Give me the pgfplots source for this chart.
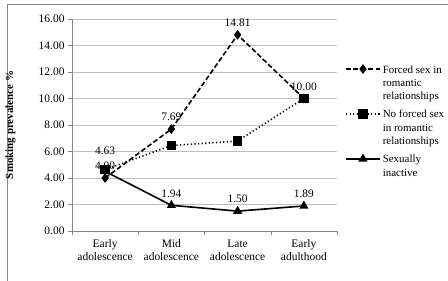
\documentclass[border=0pt]{standalone}
\usepackage{pgfplots}
\pgfplotsset{compat=1.18}
\usepackage{fontspec}
\setmainfont{Liberation Serif}
\definecolor{gridc}{HTML}{BFBFBF}
\definecolor{axc}{HTML}{868686}
\begin{document}
\begin{tikzpicture}
\useasboundingbox (0,0) rectangle (448bp,281bp);
\draw[axc, line width=0.8bp] (7bp,0) -- (7bp,276.5bp) -- (448bp,276.5bp);
\begin{axis}[
  at={(72bp,50bp)}, anchor=south west,
  scale only axis, width=265bp, height=212bp,
  xmin=-0.5, xmax=3.5, ymin=0, ymax=16,
  axis lines=left, axis line style={axc, -},
  xtick={0,1,2,3},
  xticklabels={Early\\adolescence, Mid\\adolescence, Late\\adolescence, Early\\adulthood},
  xticklabel style={align=center, font=\fontsize{11.5}{13.5}\selectfont, yshift=-1bp},
  major x tick style={draw=none},
  minor xtick={-0.5,0.5,1.5,2.5,3.5},
  minor x tick style={axc},
  minor tick length=4bp,
  tick align=outside,
  ytick={0,2,...,16},
  major y tick style={axc},
  major tick length=4bp,
  yticklabel style={font=\fontsize{11.5}{13}\selectfont, /pgf/number format/.cd, fixed, fixed zerofill, precision=2},
  /pgf/number format/assume math mode=true,
  ymajorgrids, grid style={gridc, line width=0.8bp},
  ylabel={\textbf{Smoking prevalence \%}},
  ylabel style={font=\fontsize{11}{12}\selectfont, at={(axis description cs:-0.2,0.5)}},
  clip=false,
  legend style={at={(axis description cs:1.03,0.80)}, anchor=north west, draw=none, fill=none,
    font=\fontsize{11}{13.5}\selectfont, row sep=30bp, inner sep=0pt},
  legend cell align=left,
  legend image code/.code={\draw[mark repeat=2, mark phase=2] plot coordinates {(0cm,0cm) (0.6cm,0cm) (1.2cm,0cm)};},
  nodes near coords style={font=\fontsize{11.5}{13}\selectfont, anchor=south, yshift=4bp, text=black},
]
\addplot[black, line width=1.6bp, dash pattern=on 5bp off 2.5bp, mark=diamond*, mark size=3.6bp, mark options={solid},
  nodes near coords, point meta=explicit symbolic]
  coordinates {(0,4.00) [4.00] (1,7.69) [7.69] (2,14.81) [14.81] (3,10.00) [10.00]};
\addlegendentry{\begin{tabular}[t]{@{}l@{}}Forced sex in\\romantic\\relationships\end{tabular}}
\addplot[black, line width=1.6bp, dash pattern=on 1.2bp off 2.4bp, mark=square*, mark size=4bp, mark options={solid}]
  coordinates {(0,4.63) (1,6.45) (2,6.79) (3,10.00)};
\addlegendentry{\begin{tabular}[t]{@{}l@{}}No forced sex\\in romantic\\relationships\end{tabular}}
\addplot[black, line width=1.6bp, mark=triangle*, mark size=3.8bp,
  nodes near coords, point meta=explicit symbolic]
  coordinates {(0,4.50) [] (1,1.94) [1.94] (2,1.50) [1.50] (3,1.89) [1.89]};
\addlegendentry{\begin{tabular}[t]{@{}l@{}}Sexually\\inactive\end{tabular}}
\addplot[draw=none, forget plot, nodes near coords, point meta=explicit symbolic,
  nodes near coords style={yshift=7bp}]
  coordinates {(0,4.63) [4.63]};
\end{axis}
\end{tikzpicture}
\end{document}
